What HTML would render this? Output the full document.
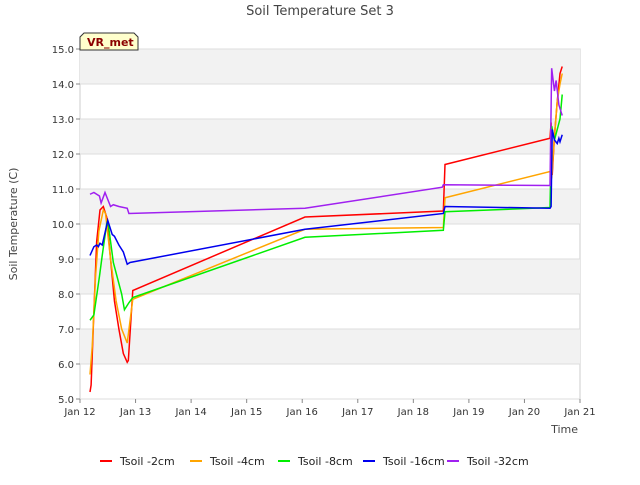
<!DOCTYPE html>
<html><head><meta charset="utf-8"><style>
body{margin:0;background:#fff;font-family:"Liberation Sans","DejaVu Sans",sans-serif}
</style></head><body>
<svg id="c" width="640" height="480" xmlns="http://www.w3.org/2000/svg" font-family="DejaVu Sans, Liberation Sans, sans-serif">
<text x="320" y="15" text-anchor="middle" font-size="13" fill="#444">Soil Temperature Set 3</text>
<text transform="translate(17,224) rotate(-90)" text-anchor="middle" font-size="11" fill="#444">Soil Temperature (C)</text>
<text x="578" y="433" text-anchor="end" font-size="11" fill="#444">Time</text>
<g id="bands"></g><g id="axes"></g><g id="series"></g><g id="legend"></g>
<g>
<path d="M80,50 L80,37 L84,33 L134,33 L138,37 L138,50 Z" fill="#ffffcc" stroke="#333"/>
<text x="87" y="46" font-size="11" font-weight="bold" fill="#8b0000">VR_met</text></g>
</svg>
<script>
const xTicks=["Jan 12","Jan 13","Jan 14","Jan 15","Jan 16","Jan 17","Jan 18","Jan 19","Jan 20","Jan 21"];
const yTicks=[5,6,7,8,9,10,11,12,13,14,15];
const seriesNames=["Tsoil -2cm","Tsoil -4cm","Tsoil -8cm","Tsoil -16cm","Tsoil -32cm"];
const seriesColors=["#ff0000","#ffa500","#00ee00","#0000ee","#a020f0"];
const t2=[0.18,0.2,0.25,0.3,0.36,0.42,0.48,0.55,0.62,0.7,0.78,0.85,0.87,0.95,4.05,6.54,6.57,8.46,8.48,8.5,8.54,8.59,8.64,8.68];
const v2=[5.2,5.4,7.5,9.5,10.4,10.5,10.2,9.0,7.8,7.0,6.3,6.05,6.1,8.1,10.2,10.37,11.7,12.45,12.9,11.4,12.5,13.5,14.3,14.5];
const t4=[0.18,0.22,0.28,0.34,0.42,0.46,0.55,0.65,0.75,0.85,0.95,4.05,6.54,6.57,8.46,8.49,8.54,8.59,8.64,8.68];
const v4=[5.7,6.5,8.5,9.8,10.4,10.3,9.0,7.8,7.0,6.6,7.85,9.85,9.9,10.75,11.5,11.3,12.5,13.5,14.0,14.3];
const t8=[0.18,0.25,0.35,0.4,0.48,0.5,0.6,0.75,0.8,0.88,0.95,4.05,6.54,6.57,8.46,8.49,8.54,8.64,8.68];
const v8=[7.25,7.4,8.5,9.1,10.0,10.1,8.9,8.0,7.55,7.75,7.9,9.62,9.82,10.35,10.47,12.8,12.4,13.0,13.7];
const t16=[0.18,0.25,0.3,0.33,0.36,0.4,0.5,0.58,0.62,0.7,0.78,0.85,0.9,4.05,6.54,6.57,8.46,8.48,8.5,8.54,8.59,8.62,8.64,8.68];
const v16=[9.1,9.35,9.4,9.35,9.45,9.4,10.1,9.7,9.65,9.4,9.2,8.85,8.9,9.85,10.3,10.5,10.45,10.5,12.7,12.4,12.3,12.45,12.35,12.55];
const t32=[0.18,0.25,0.35,0.38,0.45,0.55,0.6,0.7,0.85,0.88,4.05,6.52,6.54,8.46,8.49,8.54,8.57,8.62,8.68];
const v32=[10.85,10.9,10.8,10.6,10.9,10.5,10.55,10.5,10.45,10.3,10.45,11.05,11.12,11.1,14.45,13.8,14.1,13.4,13.1];
const allT=[t2,t4,t8,t16,t32], allV=[v2,v4,v8,v16,v32];
const X0=80,X1=580,Y0=399,Y1=49;
const xs=d=>X0+d*(X1-X0)/9, ys=v=>Y0-(v-5)*(Y0-Y1)/10;
const NS="http://www.w3.org/2000/svg";
function mk(tag,at,par){const e=document.createElementNS(NS,tag);for(const k in at)e.setAttribute(k,at[k]);par.appendChild(e);return e;}
const bands=document.getElementById('bands'),axes=document.getElementById('axes'),ser=document.getElementById('series'),leg=document.getElementById('legend');
mk('rect',{x:X0,y:Y1,width:X1-X0,height:Y0-Y1,fill:'#fff',stroke:'#ccc'},bands);
for(let v=6;v<15;v+=2){const r=mk('rect',{x:X0,y:ys(v+1),width:X1-X0,height:ys(v)-ys(v+1),fill:'#f2f2f2'},bands);

}
yTicks.forEach(v=>{mk('line',{x1:X0,x2:X1,y1:ys(v),y2:ys(v),stroke:'#ddd'},axes);
mk('line',{x1:X0-4,x2:X0,y1:ys(v),y2:ys(v),stroke:'#888'},axes);
const t=mk('text',{x:X0-6,y:ys(v)+4,'text-anchor':'end','font-size':10,fill:'#333'},axes);t.textContent=v.toFixed(1);

});
xTicks.forEach((s,i)=>{mk('line',{x1:xs(i),x2:xs(i),y1:Y0,y2:Y0+4,stroke:'#888'},axes);
const t=mk('text',{x:xs(i),y:Y0+16,'text-anchor':'middle','font-size':10,fill:'#333'},axes);t.textContent=s;

});
allT.forEach((ts,k)=>{const p=mk('polyline',{points:ts.map((d,i)=>xs(d)+','+ys(allV[k][i])).join(' '),fill:'none',stroke:seriesColors[k],'stroke-width':1.5},ser);

});
const lx=[100,190,278,363,447];
seriesNames.forEach((n,k)=>{const g=mk('g',{},leg);


mk('line',{x1:lx[k],x2:lx[k]+12,y1:461,y2:461,stroke:seriesColors[k],'stroke-width':2},g);
const t=mk('text',{x:lx[k]+20,y:465,'font-size':11,fill:'#222'},g);t.textContent=n;});
</script>
</body></html>
